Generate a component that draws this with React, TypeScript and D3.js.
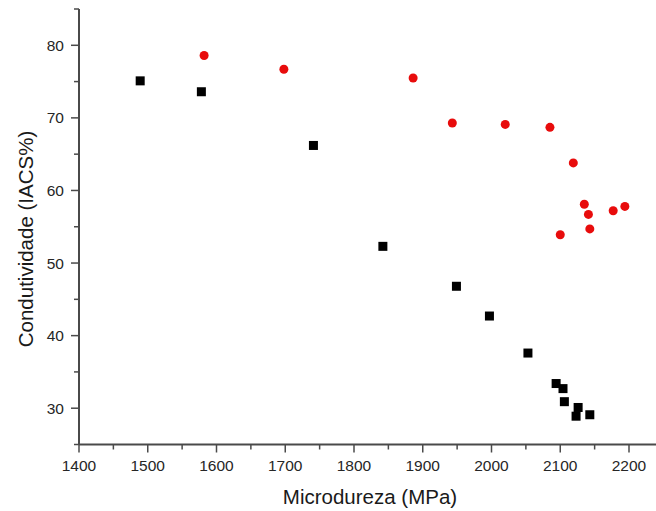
import * as d3 from "d3";

const width = 656;
const height = 511;

// black squares
const sqX = [1489, 1578, 1741, 1842, 1949, 1997, 2053, 2094, 2104, 2106, 2126, 2123, 2143];
const sqY = [75.1, 73.6, 66.2, 52.3, 46.8, 42.7, 37.6, 33.4, 32.7, 30.9, 30.1, 28.9, 29.1];

// red circles
const ciX = [1582, 1698, 1886, 1943, 2020, 2085, 2119, 2135, 2141, 2143, 2100, 2177, 2194];
const ciY = [78.6, 76.7, 75.5, 69.3, 69.1, 68.7, 63.8, 58.1, 56.7, 54.7, 53.9, 57.2, 57.8];

const xTicks = [1400, 1500, 1600, 1700, 1800, 1900, 2000, 2100, 2200];
const xMinor = [1450, 1550, 1650, 1750, 1850, 1950, 2050, 2150];
const yTicks = [30, 40, 50, 60, 70, 80];
const yMinor = [25, 35, 45, 55, 65, 75, 85];

const xLabel = "Microdureza (MPa)";
const yLabel = "Condutividade (IACS%)";

const left = 79;
const top = 9;
const bottom = 444.5;

const App = () => {
  const x = d3.scaleLinear().domain([1400, 2240]).range([left, left + 840 * 0.6875]);
  const y = d3.scaleLinear().domain([25, 85]).range([bottom, top]);
  const axisCol = "#4a4a4a";
  const font = "'Liberation Sans', Arial, sans-serif";

  return (
    <svg
      width={width}
      height={height}
      style={{ position: "absolute", left: 0, top: 0, background: "#fff" }}
    >
      {/* axes */}
      <line x1={left} x2={left} y1={top} y2={bottom} stroke={axisCol} strokeWidth={2} />
      <line x1={left} x2={width} y1={bottom} y2={bottom} stroke={axisCol} strokeWidth={2} />

      {xTicks.map((t) => (
        <g key={"x" + t}>
          <line x1={x(t)} x2={x(t)} y1={bottom} y2={bottom + 8} stroke={axisCol} strokeWidth={1.5} />
          <text x={x(t)} y={471} textAnchor="middle" fontFamily={font} fontSize={15.5} fill="#262626">
            {t}
          </text>
        </g>
      ))}
      {xMinor.map((t) => (
        <line key={"xm" + t} x1={x(t)} x2={x(t)} y1={bottom} y2={bottom + 5} stroke={axisCol} strokeWidth={1.5} />
      ))}

      {yTicks.map((t) => (
        <g key={"y" + t}>
          <line x1={left - 8} x2={left} y1={y(t)} y2={y(t)} stroke={axisCol} strokeWidth={1.5} />
          <text
            x={64}
            y={y(t)}
            dy="0.36em"
            textAnchor="end"
            fontFamily={font}
            fontSize={15.5}
            fill="#262626"
          >
            {t}
          </text>
        </g>
      ))}
      {yMinor.map((t) => (
        <line key={"ym" + t} x1={left - 5} x2={left} y1={y(t)} y2={y(t)} stroke={axisCol} strokeWidth={1.5} />
      ))}

      {/* titles */}
      <text x={370} y={504} textAnchor="middle" fontFamily={font} fontSize={20.5} fill="#1a1a1a">
        {xLabel}
      </text>
      <text
        transform={`translate(33,239) rotate(-90)`}
        textAnchor="middle"
        fontFamily={font}
        fontSize={20.5}
        fill="#1a1a1a"
      >
        {yLabel}
      </text>

      {/* data */}
      {sqX.map((v, i) => (
        <rect key={"s" + i} x={x(v) - 4.5} y={y(sqY[i]) - 4.5} width={9} height={9} fill="#000" />
      ))}
      {ciX.map((v, i) => (
        <circle key={"c" + i} cx={x(v)} cy={y(ciY[i])} r={4.5} fill="#e80c0c" />
      ))}
    </svg>
  );
};

export default App;
